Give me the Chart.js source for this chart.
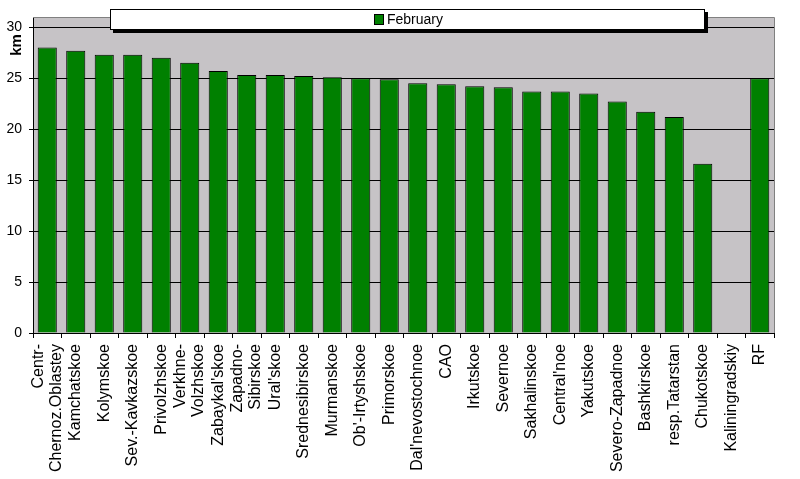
<!DOCTYPE html>
<html>
<head>
<meta charset="utf-8">
<script src="https://cdn.jsdelivr.net/npm/chart.js@4.4.0/dist/chart.umd.min.js"></script>
<style>
html, body { margin: 0; padding: 0; background: #fff; }
</style>
</head>
<body>
<canvas id="chart" width="800" height="479"></canvas>
<script>
const regions = [
    ["Centr-", "Chernoz.Oblastey"], "Kamchatskoe", "Kolymskoe", "Sev.-Kavkazskoe",
    "Privolzhskoe", ["Verkhne-", "Volzhskoe"], "Zabaykal'skoe", ["Zapadno-", "Sibirskoe"],
    "Ural'skoe", "Srednesibirskoe", "Murmanskoe", "Ob'-Irtyshskoe", "Primorskoe",
    "Dal'nevostochnoe", "CAO", "Irkutskoe", "Severnoe", "Sakhalinskoe", "Central'noe",
    "Yakutskoe", "Severo-Zapadnoe", "Bashkirskoe", "resp.Tatarstan", "Chukotskoe",
    "Kaliningradskiy", "RF"
];
const february = [
    28.0, 27.7, 27.3, 27.3, 27.0, 26.5, 25.7, 25.3, 25.3, 25.2, 25.1, 25.0, 24.9,
    24.5, 24.4, 24.2, 24.1, 23.7, 23.7, 23.5, 22.7, 21.7, 21.2, 16.6, null, 25.0
];
const seriesName = "February";
const axisTitle = "km";

const FONT = "'Liberation Sans', Arial, sans-serif";

// grey plot area, borders, legend box and axis title
const decorPlugin = {
    id: "decor",
    beforeDraw(chart) {
        const { ctx, chartArea: a } = chart;
        ctx.save();
        ctx.fillStyle = "#c6c3c6";
        ctx.fillRect(a.left, a.top, a.right - a.left, a.bottom - a.top);
        ctx.restore();

        // center the two-line rotated labels on their ticks
        const items = chart.scales.x.getLabelItems(a);
        items.forEach(item => {
            if (Array.isArray(item.label) && !item.centered) {
                const shift = (item.label.length - 1) * item.font.lineHeight / 2;
                item.options.translation[0] -= shift;
                item.centered = true;
            }
        });
    },
    afterDraw(chart) {
        const { ctx, chartArea: a } = chart;
        ctx.save();
        ctx.strokeStyle = "#808080";
        ctx.lineWidth = 1;
        ctx.beginPath();
        ctx.moveTo(a.left, a.top + 0.5);
        ctx.lineTo(a.right + 0.5, a.top + 0.5);
        ctx.lineTo(a.right + 0.5, a.bottom);
        ctx.stroke();

        // legend box with shadow
        ctx.fillStyle = "#000";
        ctx.fillRect(113, 12, 595, 21);
        ctx.fillStyle = "#fff";
        ctx.fillRect(110, 9, 595, 21);
        ctx.strokeStyle = "#000";
        ctx.strokeRect(110.5, 9.5, 594, 20);
        ctx.fillStyle = "#008000";
        ctx.fillRect(374, 14, 9, 10);
        ctx.strokeRect(374.5, 14.5, 9, 10);
        ctx.fillStyle = "#000";
        ctx.font = "14px " + FONT;
        ctx.textBaseline = "middle";
        ctx.textAlign = "left";
        ctx.fillText(seriesName, 387, 20);

        // y axis title
        ctx.translate(17, 45);
        ctx.rotate(-Math.PI / 2);
        ctx.font = "bold 15px " + FONT;
        ctx.textAlign = "center";
        ctx.fillText(axisTitle, 0, 0);
        ctx.restore();
    }
};

new Chart(document.getElementById("chart"), {
    type: "bar",
    data: {
        labels: regions,
        datasets: [{
            label: seriesName,
            data: february,
            backgroundColor: "#008000",
            borderColor: "#000",
            borderWidth: 1,
            categoryPercentage: 1,
            barPercentage: 0.67
        }]
    },
    options: {
        responsive: false,
        animation: false,
        devicePixelRatio: 1,
        layout: { padding: { left: 0, top: 17, right: 26, bottom: 0 } },
        plugins: {
            legend: { display: false },
            tooltip: { enabled: false }
        },
        scales: {
            x: {
                afterFit(scale) { scale.height = 146; },
                grid: {
                    offset: true,
                    drawOnChartArea: false,
                    color: "#000",
                    tickLength: 5
                },
                border: { color: "#000" },
                ticks: {
                    autoSkip: false,
                    maxRotation: 90,
                    minRotation: 90,
                    padding: 6,
                    color: "#000",
                    font: { family: FONT, size: 16, lineHeight: 1.12 }
                }
            },
            y: {
                min: 0,
                max: 31,
                afterFit(scale) { scale.width = 33; },
                grid: { color: "#000", tickLength: 4 },
                border: { color: "#000" },
                ticks: {
                    stepSize: 5,
                    includeBounds: false,
                    padding: 7,
                    color: "#000",
                    font: { family: FONT, size: 14 }
                }
            }
        }
    },
    plugins: [decorPlugin]
});
</script>
</body>
</html>
